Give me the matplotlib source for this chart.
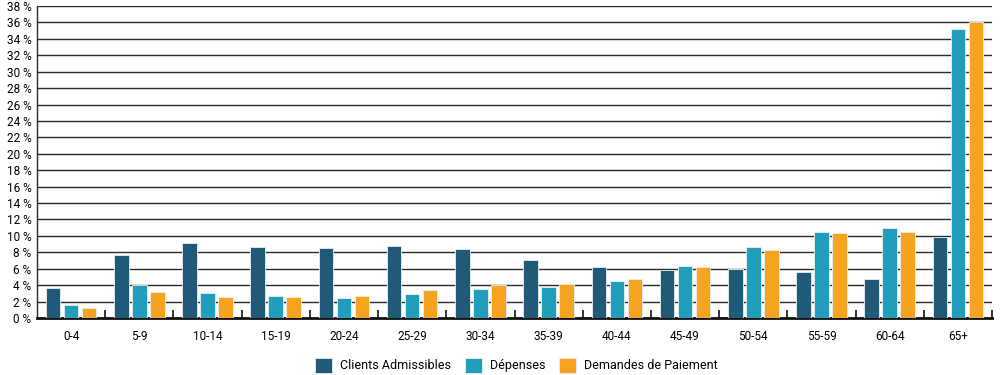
import matplotlib
matplotlib.use("Agg")
import matplotlib.pyplot as plt
import numpy as np

categories = ["0-4", "5-9", "10-14", "15-19", "20-24", "25-29", "30-34", "35-39",
              "40-44", "45-49", "50-54", "55-59", "60-64", "65+"]
clients = [3.6, 7.7, 9.1, 8.7, 8.5, 8.8, 8.4, 7.1, 6.2, 5.8, 6.0, 5.6, 4.7, 9.9]
depenses = [1.6, 4.0, 3.1, 2.7, 2.4, 2.9, 3.5, 3.8, 4.5, 6.3, 8.6, 10.5, 11.0, 35.2]
demandes = [1.2, 3.2, 2.6, 2.5, 2.7, 3.4, 4.0, 4.2, 4.7, 6.2, 8.3, 10.3, 10.5, 36.0]
series_names = ["Clients Admissibles", "Dépenses", "Demandes de Paiement"]
colors = ["#205a78", "#219ebc", "#f6a41f"]
yticks = list(range(0, 39, 2))

plt.rcParams['font.family'] = ['Roboto', 'DejaVu Sans']

fig = plt.figure(figsize=(10, 3.75), dpi=100)
ax = fig.add_axes([0.037, 0.152, 0.955, 0.832])

x = np.arange(len(categories))
w = 0.213
off = 0.264
for i, (vals, c, name) in enumerate(zip([clients, depenses, demandes], colors, series_names)):
    ax.bar(x + (i - 1) * off, vals, width=w, color=c, edgecolor="#e8f0f4",
           linewidth=0.6, label=name, zorder=3)

ax.set_xlim(-0.5, len(categories) - 0.5)
ax.set_ylim(0, 38)
ax.set_yticks(yticks)
ax.set_yticklabels([f"{t} %" for t in yticks])
ax.yaxis.grid(True, color="#2a2a2a", linewidth=1.0, zorder=0)
ax.set_axisbelow(True)

ax.set_xticks(x)
ax.set_xticklabels(categories)
ax.tick_params(axis='x', length=0, pad=9, labelsize=8.5)
ax.tick_params(axis='y', length=0, pad=4, labelsize=8.5)

# boundary ticks between groups (inward)
ax.set_xticks(np.arange(0.5, len(categories), 1.0), minor=True)
ax.tick_params(axis='x', which='minor', direction='in', length=6, width=1.2, color="#111111")

for s in ["top", "right"]:
    ax.spines[s].set_visible(False)
ax.spines["left"].set_color("#2a2a2a")
ax.spines["left"].set_linewidth(1.0)
ax.spines["bottom"].set_color("#111111")
ax.spines["bottom"].set_linewidth(2.0)

leg = fig.legend(loc="center", bbox_to_anchor=(0.5165, 0.026), ncol=3, frameon=False,
                 fontsize=9, handlelength=1.35, handleheight=1.45, columnspacing=1.1,
                 handletextpad=0.65)

fig.savefig("out.png", dpi=100)
